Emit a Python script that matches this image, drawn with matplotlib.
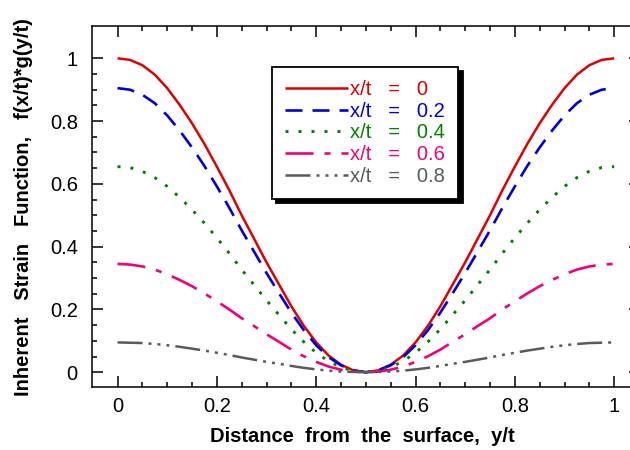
import matplotlib
matplotlib.use("Agg")
import matplotlib.pyplot as plt
import numpy as np

plt.rcParams['font.family'] = ['Liberation Sans', 'DejaVu Sans']
plt.rcParams['lines.scale_dashes'] = False

# y/t sample positions (left half 0..0.5, curves are mirrored about 0.5)
y_half = [0.0, 0.025, 0.05, 0.075, 0.1, 0.125, 0.15, 0.175, 0.2, 0.225, 0.25,
          0.275, 0.3, 0.325, 0.35, 0.375, 0.4, 0.425, 0.45, 0.475, 0.5]

half_0 = [1.0, 0.995, 0.978, 0.948, 0.905, 0.852, 0.793, 0.727, 0.655, 0.580, 0.500,
          0.425, 0.350, 0.280, 0.210, 0.148, 0.095, 0.053, 0.024, 0.006, 0.0]
half_02 = [0.905, 0.900, 0.884, 0.857, 0.818, 0.770, 0.716, 0.657, 0.592, 0.524, 0.452,
           0.384, 0.316, 0.252, 0.190, 0.134, 0.086, 0.048, 0.022, 0.006, 0.0]
half_04 = [0.655, 0.652, 0.640, 0.620, 0.592, 0.557, 0.518, 0.475, 0.428, 0.379, 0.327,
           0.278, 0.229, 0.183, 0.137, 0.097, 0.062, 0.035, 0.016, 0.004, 0.0]
half_06 = [0.345, 0.343, 0.337, 0.327, 0.312, 0.294, 0.274, 0.251, 0.226, 0.200, 0.172,
           0.147, 0.121, 0.097, 0.072, 0.051, 0.033, 0.018, 0.008, 0.002, 0.0]
half_08 = [0.095, 0.094, 0.093, 0.090, 0.086, 0.081, 0.075, 0.069, 0.062, 0.055, 0.047,
           0.040, 0.033, 0.027, 0.020, 0.014, 0.009, 0.005, 0.002, 0.001, 0.0]

y_pos = y_half + [1.0 - v for v in y_half[-2::-1]]
series_0 = half_0 + half_0[-2::-1]
series_02 = half_02 + half_02[-2::-1]
series_04 = half_04 + half_04[-2::-1]
series_06 = half_06 + half_06[-2::-1]
series_08 = half_08 + half_08[-2::-1]

labels = ["x/t   =   0", "x/t   =   0.2", "x/t   =   0.4", "x/t   =   0.6", "x/t   =   0.8"]
colors = ["#e00000", "#0000dd", "#008000", "#f0007f", "#5a5a5a"]

xticks = [0, 0.2, 0.4, 0.6, 0.8, 1.0]
xticklabels = ["0", "0.2", "0.4", "0.6", "0.8", "1"]
yticks = [0, 0.2, 0.4, 0.6, 0.8, 1.0]
yticklabels = ["0", "0.2", "0.4", "0.6", "0.8", "1"]

px = 0.72  # points per pixel at dpi 100
styles = [
    dict(linestyle='-', linewidth=1.8),
    dict(linestyle=(0, (17 * px, 10 * px)), linewidth=1.9),
    dict(linestyle=(0, (3 * px, 10 * px)), linewidth=2.1),
    dict(linestyle=(0, (28 * px, 11 * px, 6 * px, 11 * px)), linewidth=1.9),
    dict(linestyle=(0, (25 * px, 6 * px, 3 * px, 6 * px, 3 * px, 6 * px, 3 * px, 6 * px)), linewidth=1.8),
]

FS = 14.5

fig = plt.figure(figsize=(6.3, 4.5), dpi=100)
ax = fig.add_axes([91.7 / 630, 1 - 387.3 / 450, (640 - 91.7) / 630, (387.3 - 26.3) / 450])

all_series = [series_0, series_02, series_04, series_06, series_08]
for s, lab, c, st in zip(all_series, labels, colors, styles):
    ax.plot(y_pos, s, color=c, label=lab, solid_capstyle='butt', dash_capstyle='butt',
            solid_joinstyle='round', **st)

ax.set_xlim(-0.052, 1.052)
ax.set_ylim(-0.048, 1.102)
ax.set_xticks(xticks)
ax.set_xticklabels(xticklabels)
ax.set_yticks(yticks)
ax.set_yticklabels(yticklabels)
ax.set_xticks(np.arange(0, 1.0001, 0.05), minor=True)
ax.set_yticks(np.arange(0, 1.0001, 0.05), minor=True)
ax.tick_params(which='both', direction='in', top=True, right=True, width=1.1, labelsize=FS)
ax.tick_params(which='major', length=8)
ax.tick_params(which='minor', length=3.6)
ax.tick_params(axis='y', pad=10)
ax.tick_params(axis='x', pad=7)
for sp in ax.spines.values():
    sp.set_linewidth(1.1)

fig.text(362.5 / 630, 1 - 436 / 450, "Distance  from  the  surface,  y/t",
         ha='center', va='center', fontsize=FS, fontweight='bold')
fig.text(24 / 630, 1 - 207 / 450, "Inherent   Strain   Function,   f(x/t)*g(y/t)",
         ha='center', va='center', rotation=90, fontsize=FS, fontweight='bold')

leg = ax.legend(loc='upper left', bbox_to_anchor=(272.3 / 630, 1 - 66.7 / 450),
                bbox_transform=fig.transFigure, borderaxespad=0, fontsize=FS,
                handlelength=3.13, handletextpad=0.1, labelspacing=0.14,
                borderpad=0.65, fancybox=False, edgecolor='black', framealpha=1,
                shadow={'ox': 3, 'oy': -3, 'facecolor': 'black', 'edgecolor': 'black', 'alpha': 1})
leg.get_frame().set_linewidth(1.3)
for t, c in zip(leg.get_texts(), colors):
    t.set_color(c)

fig.savefig("out.png", dpi=100)
